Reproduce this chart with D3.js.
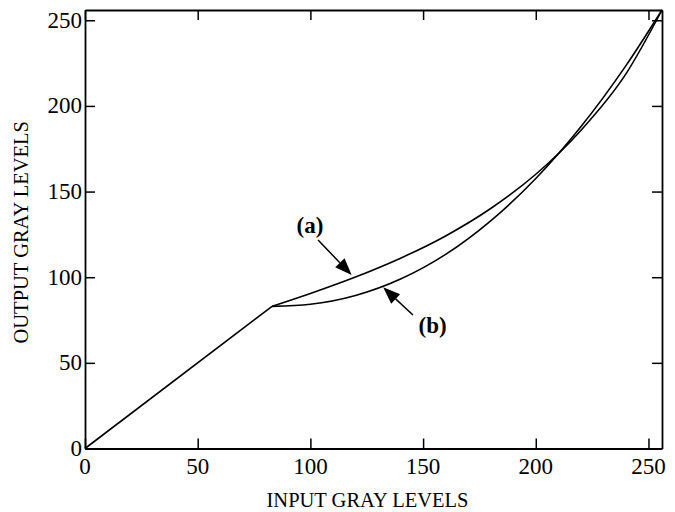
<!DOCTYPE html>
<html>
<head>
<meta charset="utf-8">
<script src="https://cdn.jsdelivr.net/npm/d3@7"></script>
<style>
	body { margin: 0; background: #fff; }
	svg { display: block; }
	.axis path, .axis line { stroke: #000; }
	.title { font-family: "Liberation Serif", "Times New Roman", serif; font-size: 20.5px; fill: #000; }
	.ticklabel { font-family: "Liberation Serif", "Times New Roman", serif; font-size: 23px; fill: #000; }
	.note { font-family: "Liberation Serif", "Times New Roman", serif; font-size: 23px; font-weight: bold; fill: #000; }
	.curve { fill: none; stroke: #000; stroke-width: 1.6px; }
</style>
</head>
<body>
<div id="chart"></div>
<script>
// tick values, same on both axes
var ticks = [0, 50, 100, 150, 200, 250];

// straight part below the knee
var linearX = [0, 83];
var linearY = [0, 83];

// the two curves above the knee
var curveX = [83, 100, 120, 140, 160, 180, 200, 220, 240, 256];
var curveA = [83, 90.5, 100.1, 111.1, 124.1, 140.1, 160.1, 185.7, 218.7, 256];
var curveB = [83, 84.2, 89.3, 98.9, 113.3, 132.9, 157.6, 187.8, 223.5, 256];

// labels with arrows: text position, arrow start, arrow tip (data units)
var noteLabels = ["(a)", "(b)"];
var noteText = [[99.8, 125.8], [154.2, 67.4]];
var noteFrom = [[103.4, 121.7], [145.5, 77.9]];
var noteTo = [[118.3, 101.3], [132.3, 94.1]];

var width = 675,
	height = 512;

var margin = { top: 10, right: 13, bottom: 63.5, left: 85 };
var chart_width = width - margin.left - margin.right;
var chart_height = height - margin.top - margin.bottom;

var svg = d3.select("#chart").append("svg")
	.attr("width", width)
	.attr("height", height);

var xScale = d3.scaleLinear().domain([0, 256]).range([0, chart_width]);
var yScale = d3.scaleLinear().domain([0, 256]).range([chart_height, 0]);

var g = svg.append("g").attr("transform", "translate(" + margin.left + "," + margin.top + ")");

// all four sides, ticks pointing inward; labels drawn below
var xAxis = d3.axisBottom(xScale).tickValues(ticks).tickSize(-10).tickSizeOuter(0).tickFormat("");
var yAxis = d3.axisLeft(yScale).tickValues(ticks).tickSize(-10).tickSizeOuter(0).tickFormat("");

g.append("g")
	.attr("class", "x axis")
	.attr("transform", "translate(0," + chart_height + ")")
	.call(xAxis);

g.append("g")
	.attr("class", "y axis")
	.call(yAxis);

g.append("g")
	.attr("class", "axis")
	.call(d3.axisTop(xScale).tickValues(ticks).tickSize(-10).tickSizeOuter(0).tickFormat(""));

g.append("g")
	.attr("class", "axis")
	.attr("transform", "translate(" + chart_width + ",0)")
	.call(d3.axisRight(yScale).tickValues(ticks).tickSize(-10).tickSizeOuter(0).tickFormat(""));

g.selectAll(".axis path").style("stroke-width", "1.8px");
g.selectAll(".axis line").style("stroke-width", "1.5px");

// tick labels
g.selectAll(".xlabel")
	.data(ticks)
	.enter()
	.append("text")
	.attr("class", "ticklabel xlabel")
	.attr("x", function(d) { return xScale(d); })
	.attr("y", chart_height + 25)
	.attr("text-anchor", "middle")
	.text(function(d) { return d; });

g.selectAll(".ylabel")
	.data(ticks)
	.enter()
	.append("text")
	.attr("class", "ticklabel ylabel")
	.attr("x", -3)
	.attr("y", function(d) { return yScale(d); })
	.attr("dy", "0.32em")
	.attr("text-anchor", "end")
	.text(function(d) { return d; });

var line = d3.line()
	.x(function(d) { return xScale(d[0]); })
	.y(function(d) { return yScale(d[1]); });

var smooth = d3.line()
	.curve(d3.curveMonotoneX)
	.x(function(d) { return xScale(d[0]); })
	.y(function(d) { return yScale(d[1]); });

g.append("path")
	.attr("class", "curve")
	.attr("d", line(d3.zip(linearX, linearY)));

[curveA, curveB].forEach(function(ys) {
	g.append("path")
		.attr("class", "curve")
		.attr("d", smooth(d3.zip(curveX, ys)));
});

// arrows
noteLabels.forEach(function(label, i) {
	var x1 = xScale(noteFrom[i][0]), y1 = yScale(noteFrom[i][1]);
	var x2 = xScale(noteTo[i][0]), y2 = yScale(noteTo[i][1]);
	var ang = Math.atan2(y2 - y1, x2 - x1);
	var len = 17, half = 6.5;
	var bx = x2 - len * Math.cos(ang), by = y2 - len * Math.sin(ang);

	g.append("line")
		.attr("x1", x1).attr("y1", y1)
		.attr("x2", bx).attr("y2", by)
		.style("stroke", "#000")
		.style("stroke-width", "1.5px");

	g.append("path")
		.attr("d", "M" + x2 + "," + y2 +
			"L" + (bx + half * Math.sin(ang)) + "," + (by - half * Math.cos(ang)) +
			"L" + (bx - half * Math.sin(ang)) + "," + (by + half * Math.cos(ang)) + "Z")
		.style("fill", "#000");

	g.append("text")
		.attr("class", "note")
		.attr("x", xScale(noteText[i][0]))
		.attr("y", yScale(noteText[i][1]))
		.attr("text-anchor", "middle")
		.text(label);
});

// axis titles
svg.append("text")
	.attr("class", "title")
	.attr("x", margin.left + chart_width / 2 - 6)
	.attr("y", 507)
	.attr("text-anchor", "middle")
	.text("INPUT GRAY LEVELS");

svg.append("text")
	.attr("class", "title")
	.attr("transform", "translate(28," + (margin.top + chart_height / 2 + 3) + ") rotate(-90)")
	.attr("text-anchor", "middle")
	.text("OUTPUT GRAY LEVELS");
</script>
</body>
</html>
